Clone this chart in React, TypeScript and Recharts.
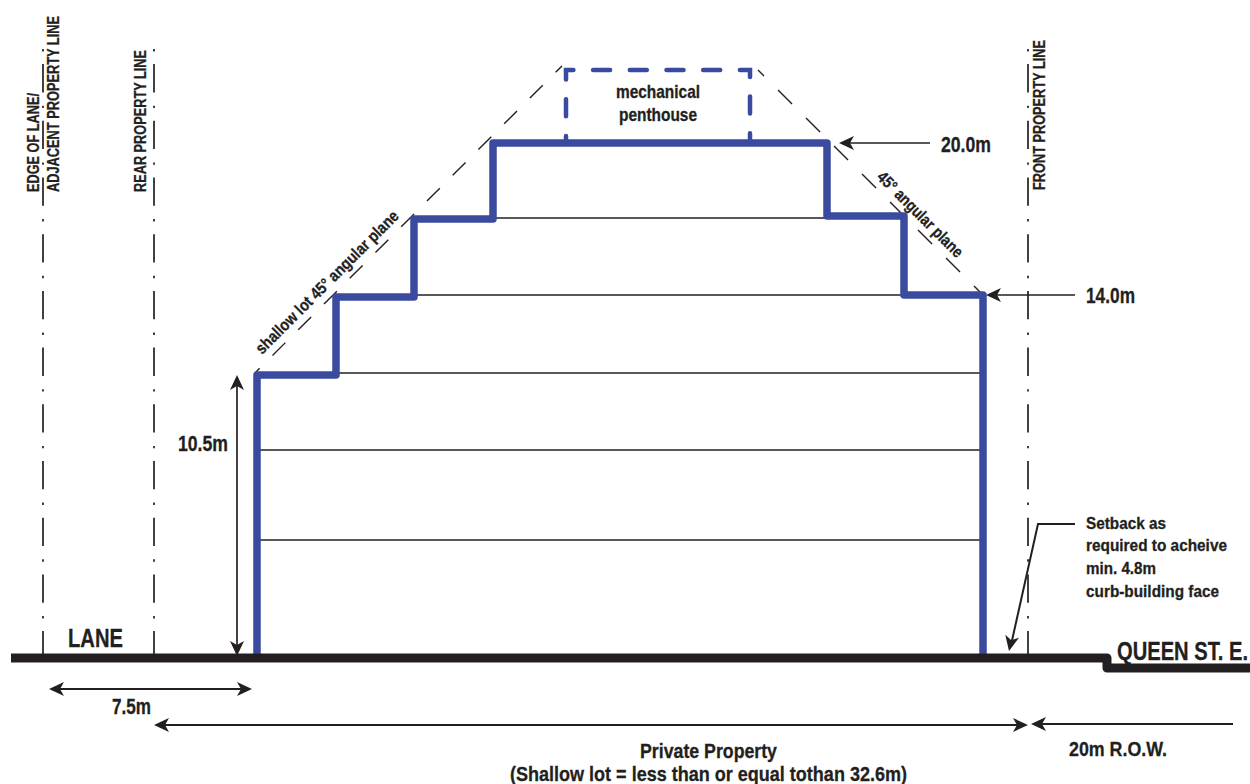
import { ComposedChart, Line, XAxis, YAxis } from 'recharts';

const INK = '#231f20';
const BLUE = '#3a4a9f';
const FONT = '"Liberation Sans", Arial, sans-serif';

const buildingOutline = [
  { x: 257, y: 657 }, { x: 257, y: 375 }, { x: 336, y: 375 }, { x: 336, y: 297 },
  { x: 414, y: 297 }, { x: 414, y: 219 }, { x: 493, y: 219 }, { x: 493, y: 143 },
  { x: 827, y: 143 }, { x: 827, y: 216 }, { x: 904, y: 216 }, { x: 904, y: 295 },
  { x: 983, y: 295 }, { x: 983, y: 657 },
];
const penthouse = [
  { x: 566, y: 143 }, { x: 566, y: 70 }, { x: 750, y: 70 }, { x: 750, y: 143 },
];
const groundLine = [
  { x: 11, y: 658 }, { x: 1107, y: 658 }, { x: 1107, y: 668 }, { x: 1250, y: 668 },
];
const floorLines = [
  [{ x: 493, y: 218 }, { x: 827, y: 218 }],
  [{ x: 414, y: 295 }, { x: 904, y: 295 }],
  [{ x: 336, y: 373 }, { x: 983, y: 373 }],
  [{ x: 257, y: 450 }, { x: 983, y: 450 }],
  [{ x: 257, y: 540 }, { x: 983, y: 540 }],
];
const propertyLines = [
  [{ x: 43, y: 49 }, { x: 43, y: 655 }],
  [{ x: 154, y: 49 }, { x: 154, y: 655 }],
  [{ x: 1028, y: 49 }, { x: 1028, y: 655 }],
];
const shallowPlane = [{ x: 562, y: 66 }, { x: 255, y: 373 }];
const frontPlane = [{ x: 758, y: 70 }, { x: 983, y: 295 }];
const dimensionLines = [
  [{ x: 237, y: 380 }, { x: 237, y: 650 }],
  [{ x: 845, y: 143 }, { x: 930, y: 143 }],
  [{ x: 992, y: 295 }, { x: 1075, y: 295 }],
  [{ x: 55, y: 689 }, { x: 246, y: 689 }],
  [{ x: 160, y: 725 }, { x: 1022, y: 725 }],
  [{ x: 1037, y: 724 }, { x: 1233, y: 724 }],
  [{ x: 1075, y: 524 }, { x: 1038, y: 524 }, { x: 1011, y: 645 }],
];
const arrowTips = [
  { x: 237, y: 375, dir: -90 },
  { x: 237, y: 656, dir: 90 },
  { x: 839, y: 143, dir: 180 },
  { x: 986, y: 295, dir: 180 },
  { x: 49, y: 689, dir: 180 },
  { x: 252, y: 689, dir: 0 },
  { x: 154, y: 725, dir: 180 },
  { x: 1028, y: 725, dir: 0 },
  { x: 1031, y: 724, dir: 180 },
  { x: 1009, y: 651, dir: 102 },
];

const labelTexts = [
  'EDGE OF LANE/', 'ADJACENT PROPERTY LINE', 'REAR PROPERTY LINE', 'FRONT PROPERTY LINE',
  'shallow lot 45° angular plane', '45° angular plane', 'mechanical', 'penthouse',
  '20.0m', '14.0m', '10.5m', 'LANE', 'QUEEN ST. E.', '7.5m', 'Private Property',
  '(Shallow lot = less than or equal tothan 32.6m)', '20m R.O.W.',
  'Setback as', 'required to acheive', 'min. 4.8m', 'curb-building face',
];
const labelX = [39, 59, 146, 1045, 262, 876, 616, 619, 941, 1086, 178, 68, 1117, 112, 640, 510, 1069, 1086, 1086, 1086, 1086];
const labelY = [192, 192, 192, 190, 355, 178, 98, 121, 152, 303, 451, 647, 660, 714, 758, 781, 756, 529, 551, 574, 597];

const labelPoints = labelTexts.map((text, i) => ({ text, x: labelX[i], y: labelY[i] }));

// font size, fitted text width, rotation
const labelLooks: Record<string, [number, number, number]> = {
  'EDGE OF LANE/': [17, 99, -90],
  'ADJACENT PROPERTY LINE': [17, 176, -90],
  'REAR PROPERTY LINE': [17, 142, -90],
  'FRONT PROPERTY LINE': [17, 150, -90],
  'shallow lot 45° angular plane': [16.5, 195, -45],
  '45° angular plane': [16.5, 114, 45],
  mechanical: [18, 84, 0],
  penthouse: [18, 78, 0],
  '20.0m': [22, 50, 0],
  '14.0m': [22, 49, 0],
  '10.5m': [22, 50, 0],
  LANE: [26, 55, 0],
  'QUEEN ST. E.': [25, 131, 0],
  '7.5m': [22, 39, 0],
  'Private Property': [21, 137, 0],
  '(Shallow lot = less than or equal tothan 32.6m)': [21, 397, 0],
  '20m R.O.W.': [21, 98, 0],
  'Setback as': [17, 80, 0],
  'required to acheive': [17, 141, 0],
  'min. 4.8m': [17, 70, 0],
  'curb-building face': [17, 133, 0],
};

const SQUEEZE = 0.82;

const renderLabel = (props: any) => {
  const { cx, cy, payload } = props;
  const [size, length, angle] = labelLooks[payload.text];
  return (
    <text
      key={payload.text}
      fontFamily={FONT}
      fontWeight="bold"
      fontSize={size}
      fill={INK}
      stroke={INK}
      strokeWidth={0.3}
      textLength={length / SQUEEZE}
      lengthAdjust="spacingAndGlyphs"
      transform={`translate(${cx} ${cy}) rotate(${angle}) scale(${SQUEEZE} 1)`}
    >
      {payload.text}
    </text>
  );
};

const renderArrow = (props: any) => {
  const { cx, cy, payload, index } = props;
  return (
    <path
      key={index}
      d="M0 0 L-15 -7 L-11 0 L-15 7 Z"
      fill={INK}
      transform={`translate(${cx} ${cy}) rotate(${payload.dir})`}
    />
  );
};

export default function App() {
  return (
    <div style={{ position: 'absolute', left: 0, top: 0, background: '#fff' }}>
      <ComposedChart width={1250} height={784} margin={{ top: 0, right: 0, bottom: 0, left: 0 }}>
        <XAxis type="number" dataKey="x" domain={[0, 1250]} hide />
        <YAxis type="number" dataKey="y" domain={[0, 784]} reversed hide />

        {floorLines.map((d, i) => (
          <Line key={`floor${i}`} data={d} dataKey="y" stroke={INK} strokeWidth={1.7} dot={false} isAnimationActive={false} />
        ))}
        {propertyLines.map((d, i) => (
          <Line key={`prop${i}`} data={d} dataKey="y" stroke={INK} strokeWidth={1.7} strokeDasharray="2.4 12.7 28.3 13.3" dot={false} isAnimationActive={false} />
        ))}
        <Line data={shallowPlane} dataKey="y" stroke={INK} strokeWidth={1.4} strokeDasharray="18.2 18.2" strokeDashoffset={9.2} dot={false} isAnimationActive={false} />
        <Line data={frontPlane} dataKey="y" stroke={INK} strokeWidth={1.4} strokeDasharray="19.8 19.8" strokeDashoffset={11.3} dot={false} isAnimationActive={false} />
        <Line data={penthouse} dataKey="y" stroke={BLUE} strokeWidth={4.5} strokeLinecap="round" strokeDasharray="17 19.7" strokeDashoffset={10} dot={false} isAnimationActive={false} />
        <Line data={buildingOutline} dataKey="y" stroke={BLUE} strokeWidth={7.5} strokeLinejoin="round" dot={false} isAnimationActive={false} />
        {dimensionLines.map((d, i) => (
          <Line key={`dim${i}`} data={d} dataKey="y" stroke={INK} strokeWidth={i > 2 ? 2 : 1.7} dot={false} isAnimationActive={false} />
        ))}
        <Line data={groundLine} dataKey="y" stroke={INK} strokeWidth={9} strokeLinejoin="round" dot={false} activeDot={false} isAnimationActive={false} />
        <Line data={arrowTips} dataKey="y" stroke="none" dot={renderArrow} isAnimationActive={false} />
        <Line data={labelPoints} dataKey="y" stroke="none" dot={renderLabel} isAnimationActive={false} />
      </ComposedChart>
    </div>
  );
}
